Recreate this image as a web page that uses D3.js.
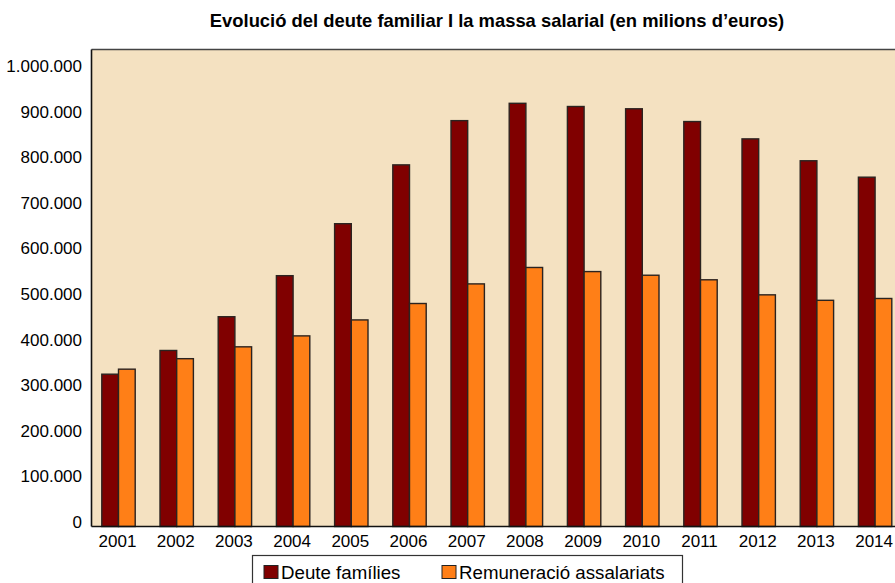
<!DOCTYPE html>
<html><head><meta charset="utf-8">
<script src="https://cdn.jsdelivr.net/npm/d3@7"></script>
<style>html,body{margin:0;padding:0;background:#fff;overflow:hidden}svg{display:block}</style>
</head><body>
<script>
const years = ["2001","2002","2003","2004","2005","2006","2007","2008","2009","2010","2011","2012","2013","2014"];
const deuteFamilies = [334000, 386000, 460000, 550000, 664000, 793000, 890000, 928000, 921000, 916000, 888000, 850000, 802000, 766000];
const remuneracio = [345000, 368000, 394000, 418000, 453000, 489000, 532000, 568000, 559000, 551000, 541000, 508000, 496000, 500000];
const yTicks = [0,100000,200000,300000,400000,500000,600000,700000,800000,900000,1000000];
const seriesNames = ["Deute famílies","Remuneració assalariats"];
const colors = ["#800000","#FF7F17"];
const title = "Evolució del deute familiar I la massa salarial (en milions d\u2019euros)";

(function(){
const W = 895, H = 583;
const svg = d3.select("body").append("svg").attr("width", W).attr("height", H);
const font = "'Liberation Sans', Arial, sans-serif";

const pLeft = 91.5, pTop = 49.5, pBottom = 526.5;
const x = d3.scaleBand().domain(years).range([89.4, 89.4 + 14*58.2]).padding(0);
const y = d3.scaleLinear().domain([0, 1046000]).range([pBottom, pTop]);
const bw = 16.7;

svg.append("rect").attr("x", pLeft).attr("y", pTop).attr("width", W - pLeft + 10).attr("height", pBottom - pTop).attr("fill", "#F4E1C1");

svg.append("text").attr("x", 497).attr("y", 26.5).attr("text-anchor","middle")
  .attr("font-family", font).attr("font-weight","bold").attr("font-size", 18.4).attr("fill","#000").text(title);

const series = [deuteFamilies, remuneracio];
series.forEach((vals, si) => {
  svg.append("g").selectAll("rect").data(years).join("rect")
    .attr("x", d => x(d) + x.bandwidth()/2 - bw + si*bw)
    .attr("y", (d,i) => y(vals[i]))
    .attr("width", bw)
    .attr("height", (d,i) => y(0) - y(vals[i]))
    .attr("fill", colors[si]).attr("stroke", "#2b2320").attr("stroke-width", 1.4);
});

svg.append("line").attr("x1", pLeft).attr("x2", W).attr("y1", pTop).attr("y2", pTop).attr("stroke","#444").attr("stroke-width",1.6);
svg.append("line").attr("x1", pLeft).attr("x2", pLeft).attr("y1", pTop).attr("y2", pBottom).attr("stroke","#111").attr("stroke-width",1.6);
svg.append("line").attr("x1", pLeft).attr("x2", W).attr("y1", pBottom).attr("y2", pBottom).attr("stroke","#111").attr("stroke-width",1.6);

const fmt = v => d3.format(",")(v).replace(/,/g, ".");
svg.append("g").selectAll("text").data(yTicks).join("text")
  .attr("x", 82).attr("y", d => y(d) - 4.5).attr("dy","0.35em").attr("text-anchor","end")
  .attr("font-family", font).attr("font-size", 17).attr("fill","#000").text(fmt);

svg.append("g").selectAll("text").data(years).join("text")
  .attr("x", d => x(d) + x.bandwidth()/2 - 1).attr("y", 541).attr("dy","0.35em").attr("text-anchor","middle")
  .attr("font-family", font).attr("font-size", 17).attr("fill","#000").text(d => d);

const lg = svg.append("g");
lg.append("rect").attr("x", 252.5).attr("y", 555.5).attr("width", 430).attr("height", 40).attr("fill","#fff").attr("stroke","#333").attr("stroke-width",1.2);
const lx = [264, 442];
seriesNames.forEach((n, i) => {
  lg.append("rect").attr("x", lx[i]).attr("y", 565.5).attr("width", 14).attr("height", 13).attr("fill", colors[i]).attr("stroke","#222").attr("stroke-width",1);
  lg.append("text").attr("x", lx[i] + 17).attr("y", 572).attr("dy","0.35em").attr("font-family", font).attr("font-size", 18.7).attr("fill","#000").text(n);
});
})();
</script>
</body></html>
